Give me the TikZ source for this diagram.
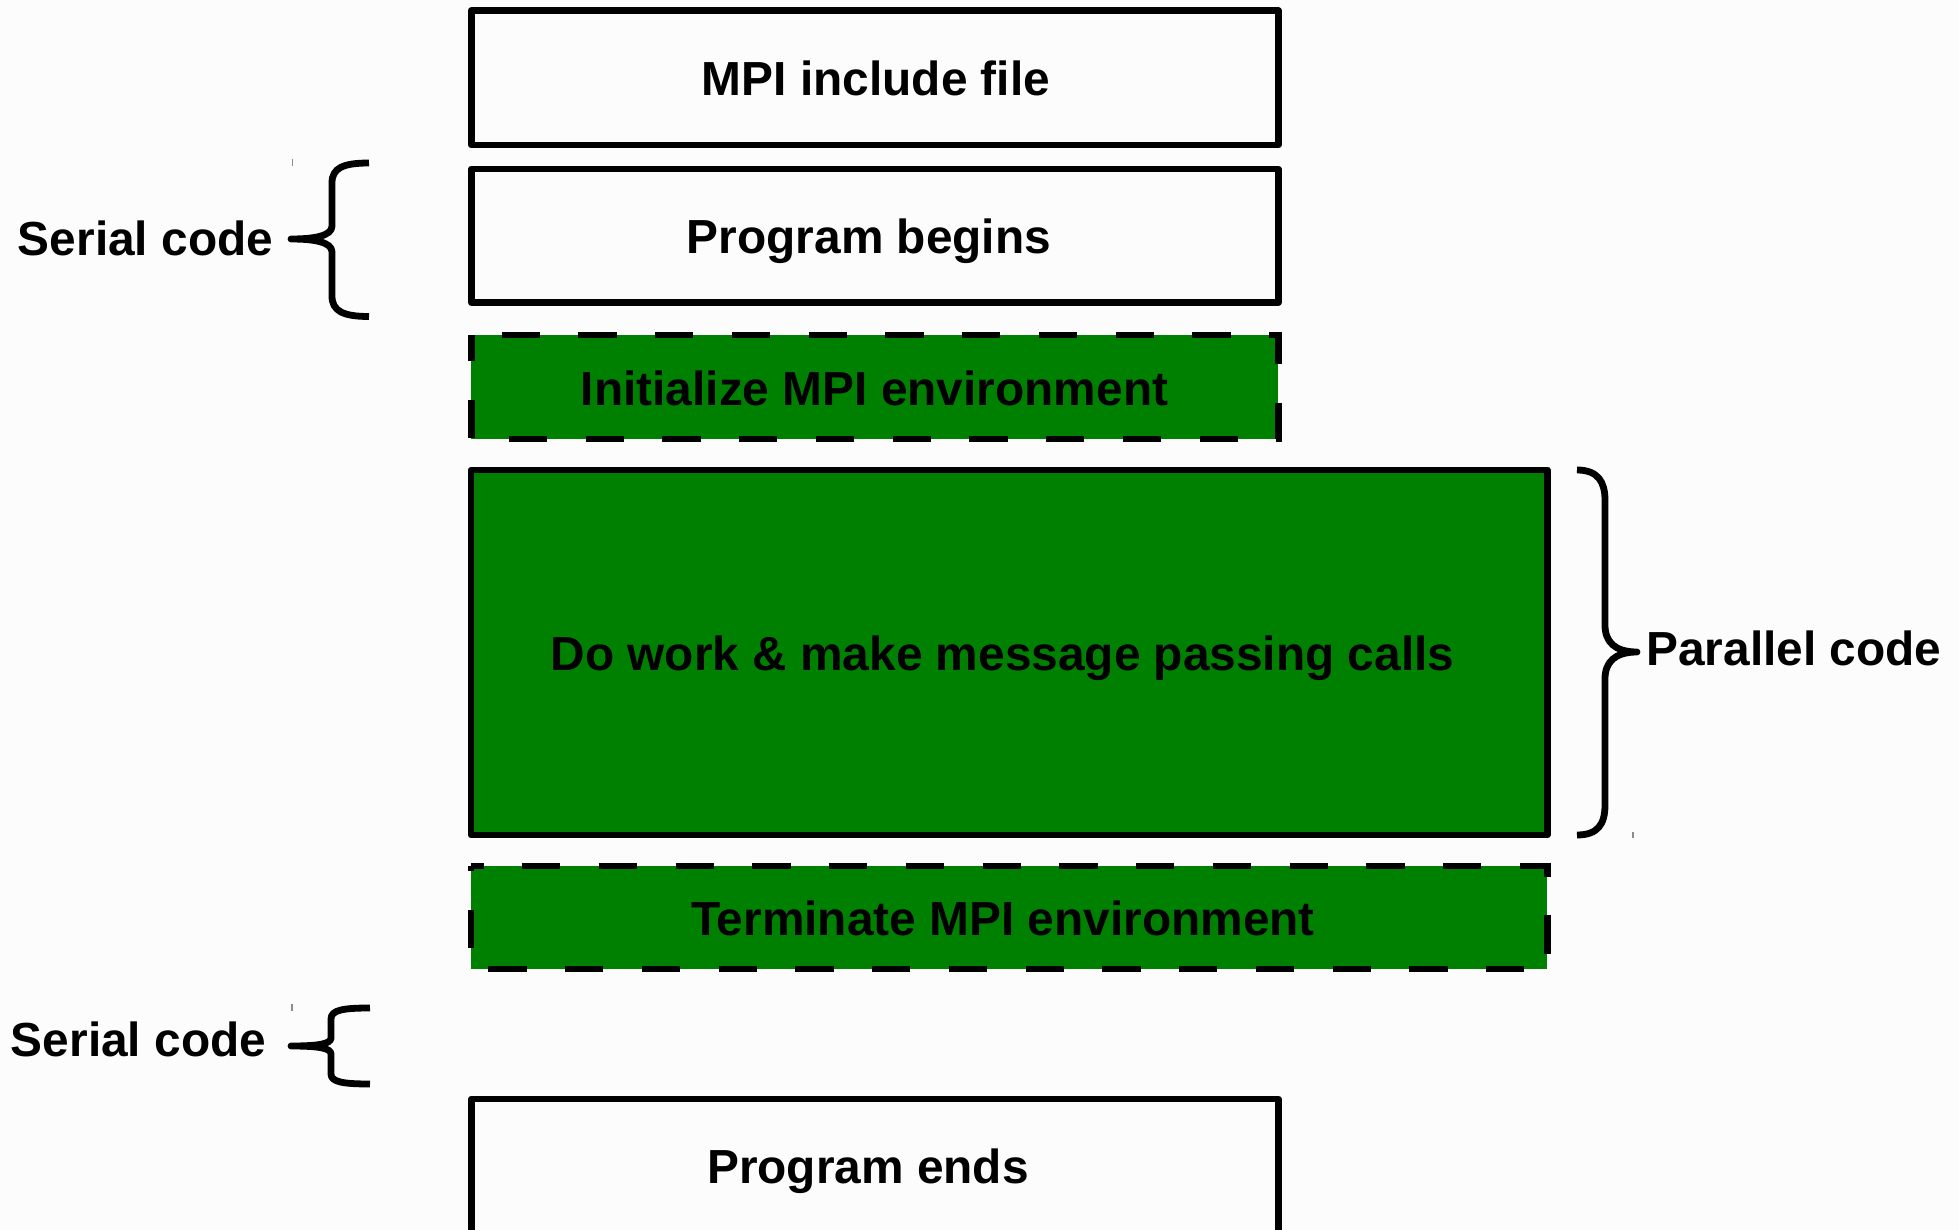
\documentclass[tikz,border=0pt]{standalone}
\usepackage{fontspec}
\setmainfont{Liberation Sans}
\definecolor{bgc}{RGB}{252,252,252}
\definecolor{mpigreen}{RGB}{0,128,0}
\definecolor{tickgray}{RGB}{140,140,140}
\tikzset{
  box/.style={draw=black, line width=0.066cm, line join=round, fill=bgc, inner sep=0pt, outer sep=0pt},
  greenbox/.style={draw=black, line width=0.066cm, line join=round, fill=mpigreen, inner sep=0pt, outer sep=0pt},
  greenfill/.style={draw=none, fill=mpigreen, inner sep=0pt, outer sep=0pt},
  dashborder/.style={draw=black, line width=0.066cm, line join=miter, dash pattern=on 0.383cm off 0.384cm},
  lbl/.style={font=\fontsize{13.6pt}{16pt}\selectfont\bfseries, inner sep=0pt, outer sep=0pt, anchor=base},
  sidelbl/.style={font=\fontsize{13.6pt}{16pt}\selectfont\bfseries, inner sep=0pt, outer sep=0pt, anchor=base west},
  bracestyle/.style={draw=black, line width=0.068cm, line join=round, line cap=butt},
  tick/.style={draw=tickgray, line width=0.012cm}
}
\begin{document}
\begin{tikzpicture}[x=0.01cm, y=-0.01cm]
\useasboundingbox (0,0) rectangle (1959,1230);
\clip (0,0) rectangle (1959,1230);
\fill[bgc] (0,0) rectangle (1959,1230);

% boxes
\node[box, minimum width=8.065cm, minimum height=1.345cm] (mpi) at (874.75,77.75) {};
\node[box, minimum width=8.065cm, minimum height=1.335cm] (begins) at (874.75,235.75) {};
\node[greenfill, minimum width=8.065cm, minimum height=1.04cm] (init) at (874.75,387) {};
\draw[dashborder, dash phase=0.463cm] (init.north west) -- (init.north east) -- (init.south east) -- (init.south west) -- cycle;
\node[greenbox, minimum width=10.755cm, minimum height=3.65cm] (work) at (1009.25,652.5) {};
\node[greenfill, minimum width=10.755cm, minimum height=1.03cm] (term) at (1009.25,917.5) {};
\draw[dashborder, dash phase=0.258cm] (term.north west) -- (term.north east) -- (term.south east) -- (term.south west) -- cycle;
\node[box, minimum width=8.065cm, minimum height=1.34cm] (ends) at (874.75,1166) {};

% box texts
\node[lbl] (mpitxt) at (876,95) {MPI include file};
\node[lbl] (beginstxt) at (869,253) {Program begins};
\node[lbl] (inittxt) at (874.5,405) {Initialize MPI environment};
\node[lbl] (worktxt) at (1002.5,670) {Do work \& make message passing calls};
\node[lbl] (termtxt) at (1003,935) {Terminate MPI environment};
\node[lbl] (endstxt) at (868,1183) {Program ends};

% side labels
\node[sidelbl] (serial1) at (18,255) {Serial code};
\node[sidelbl] (serial2) at (11,1056) {Serial code};
\node[sidelbl] (parallel) at (1646.5,665) {Parallel code};

% braces
\draw[bracestyle] (369,163) .. controls (343,163) and (332,168) .. (332,183)
  -- (332,226) .. controls (332,236) and (314,239) .. (291,239)
  .. controls (314,239) and (332,242) .. (332,252)
  -- (332,296) .. controls (332,311) and (343,316.5) .. (369,316.5);
\draw[bracestyle] (370,1008) .. controls (343,1008) and (331,1010) .. (331,1019)
  -- (331,1038) .. controls (331,1044) and (318,1046) .. (291,1046)
  .. controls (318,1046) and (331,1048) .. (331,1054)
  -- (331,1074) .. controls (331,1082) and (343,1084) .. (370,1084);
\draw[bracestyle] (1577,470) .. controls (1598,470) and (1605,482) .. (1605,500)
  -- (1605,625) .. controls (1605,642) and (1615,652) .. (1637,652)
  .. controls (1615,652) and (1605,662) .. (1605,679)
  -- (1605,805) .. controls (1605,824) and (1598,835) .. (1577,835);

% small marks
\draw[tick] (292.5,159) -- (292.5,166);
\draw[tick] (292,1004) -- (292,1011);
\draw[tick] (1633,832) -- (1633,838);
\end{tikzpicture}
\end{document}
